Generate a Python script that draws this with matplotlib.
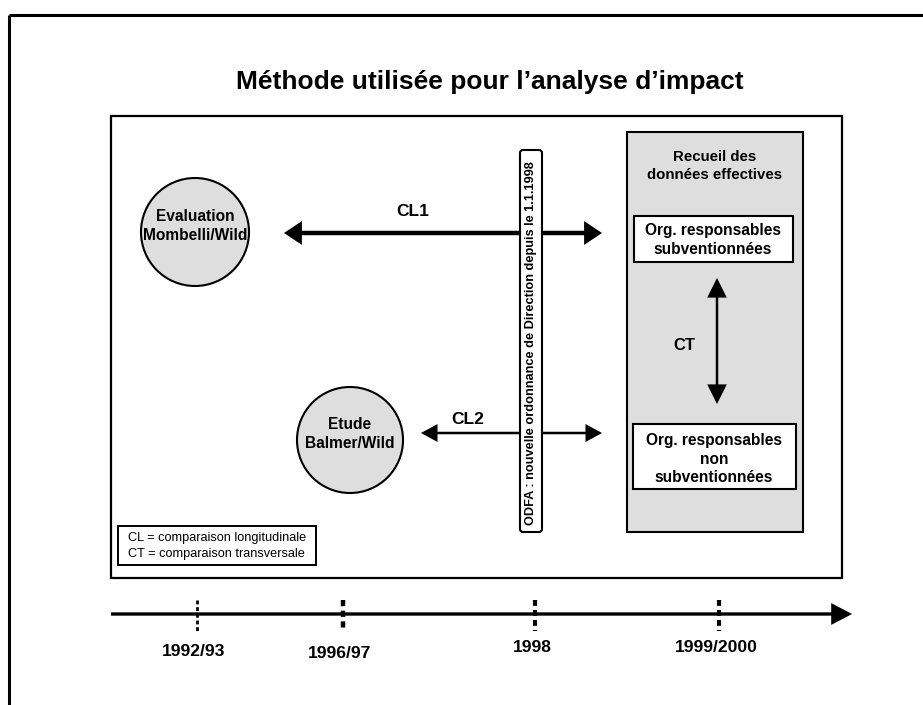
import matplotlib
matplotlib.use("Agg")
import matplotlib.pyplot as plt
from matplotlib.patches import Rectangle, Circle, FancyBboxPatch, FancyArrowPatch

plt.rcParams['font.family'] = ['Liberation Sans', 'DejaVu Sans']

# --- texts ---
title = "Méthode utilisée pour l’analyse d’impact"
studies = ["Evaluation\nMombelli/Wild", "Etude\nBalmer/Wild"]
comparisons = ["CL1", "CL2", "CT"]
odfa_label = "ODFA : nouvelle ordonnance de Direction depuis le 1.1.1998"
collect_label = "Recueil des\ndonnées effectives"
groups = ["Org. responsables\nsubventionnées", "Org. responsables\nnon\nsubventionnées"]
legend_lines = ["CL = comparaison longitudinale", "CT = comparaison transversale"]
years = ["1992/93", "1996/97", "1998", "1999/2000"]

# --- layout (pixel coordinates, y downwards) ---
year_x = [197, 343, 535, 719]
year_label_y = [651, 654, 647, 647]
tick_lw = [2.0, 3.2, 3.0, 3.0]
circle_xy = [(195, 232), (350, 440)]
circle_r = [54, 53]
gray = "#dedede"

fig = plt.figure(figsize=(9.23, 7.05), dpi=100)
ax = fig.add_axes([0, 0, 1, 1])
ax.set_xlim(0, 923)
ax.set_ylim(705, 0)
ax.axis("off")


def arrow(p0, p1, style, scale, lw, z=2):
    a = FancyArrowPatch(p0, p1, arrowstyle=style, mutation_scale=scale, lw=lw,
                        color="black", shrinkA=0, shrinkB=0, zorder=z,
                        joinstyle="miter", capstyle="butt")
    ax.add_patch(a)


# outer frame (top + left)
ax.plot([9, 923], [15, 15], color="black", lw=2.2, solid_capstyle="butt")
ax.plot([9, 9], [15, 705], color="black", lw=2.2, solid_capstyle="butt")

ax.text(490, 82, title, ha="center", va="center", fontsize=19, fontweight="bold")

# main box
ax.add_patch(Rectangle((111, 116), 842 - 111, 578 - 116, fill=False, ec="black", lw=1.6, zorder=1))

# arrows CL1 / CL2 (behind the ODFA bar)
arrow((284, 233), (602, 233), "<|-|>,head_length=0.6,head_width=0.4", 14, 3.2)
arrow((421, 433), (602, 433), "<|-|>,head_length=0.7,head_width=0.38", 13, 1.8)
ax.text(413, 212, comparisons[0], ha="center", va="center", fontsize=12.5, fontweight="bold")
ax.text(468, 419, comparisons[1], ha="center", va="center", fontsize=12.5, fontweight="bold")

# study circles
for (cx, cy), r, lab in zip(circle_xy, circle_r, studies):
    ax.add_patch(Circle((cx, cy), r, fc=gray, ec="black", lw=1.5, zorder=3))
    ax.text(cx, cy - 6, lab, ha="center", va="center", fontsize=11.2, fontweight="bold",
            linespacing=1.35, zorder=4)

# ODFA bar
ax.add_patch(FancyBboxPatch((520, 150), 22, 382, boxstyle="round,pad=0,rounding_size=3",
                            fc="white", ec="black", lw=1.5, zorder=5))
ax.text(531, 343, odfa_label, rotation=90, ha="center", va="center", fontsize=9.2,
        fontweight="bold", zorder=6)

# collected data box
ax.add_patch(Rectangle((627, 132), 803 - 627, 532 - 132, fc=gray, ec="black", lw=1.5, zorder=3))
ax.text(715, 166, collect_label, ha="center", va="center", fontsize=10.8, fontweight="bold",
        linespacing=1.3, zorder=4)
ax.add_patch(Rectangle((634, 216), 793 - 634, 262 - 216, fc="white", ec="black", lw=1.5, zorder=4))
ax.text(713, 240, groups[0], ha="center", va="center", fontsize=11.2, fontweight="bold",
        linespacing=1.25, zorder=5)
ax.add_patch(Rectangle((633, 424), 796 - 633, 489 - 424, fc="white", ec="black", lw=1.5, zorder=4))
ax.text(714, 459, groups[1], ha="center", va="center", fontsize=11.2, fontweight="bold",
        linespacing=1.3, zorder=5)

# CT arrow
arrow((717, 278), (717, 404), "<|-|>,head_length=0.8,head_width=0.4", 14, 1.8, z=5)
ax.text(684, 346, comparisons[2], ha="center", va="center", fontsize=12, fontweight="bold", zorder=5)

# legend box
ax.add_patch(Rectangle((118, 526), 316 - 118, 565 - 526, fill=False, ec="black", lw=1.4, zorder=3))
for i, line in enumerate(legend_lines):
    ax.text(128, 538 + i * 16, line, ha="left", va="center", fontsize=9.2, zorder=4)

# timeline
arrow((111, 614), (852, 614), "-|>,head_length=0.8,head_width=0.42", 14, 2.4)
for x, lab, ly, lw in zip(year_x, years, year_label_y, tick_lw):
    ax.plot([x, x], [600, 631], color="black", lw=lw, ls=(0, (1.4, 1.0)), solid_capstyle="butt")
    ax.text(x - 3, ly, lab, ha="center", va="center", fontsize=12.6, fontweight="bold")

fig.savefig("out.png", dpi=100)
